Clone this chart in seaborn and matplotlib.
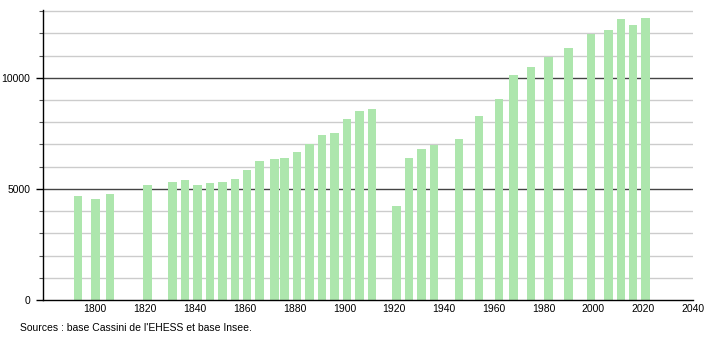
import matplotlib
matplotlib.use("Agg")
import matplotlib.pyplot as plt
import seaborn as sns
import pandas as pd
from matplotlib.ticker import MultipleLocator

years = [1793, 1800, 1806, 1821, 1831, 1836, 1841, 1846, 1851, 1856, 1861, 1866,
         1872, 1876, 1881, 1886, 1891, 1896, 1901, 1906, 1911, 1921, 1926, 1931,
         1936, 1946, 1954, 1962, 1968, 1975, 1982, 1990, 1999, 2006, 2011, 2016, 2021]
population = [4700, 4550, 4770, 5175, 5310, 5415, 5175, 5250, 5310, 5430, 5850, 6240,
              6330, 6390, 6675, 7020, 7425, 7515, 8145, 8505, 8595, 4230, 6390, 6795,
              6990, 7230, 8290, 9045, 10110, 10485, 10935, 11340, 11985, 12150, 12645, 12390, 12690]
x_ticks = [1800, 1820, 1840, 1860, 1880, 1900, 1920, 1940, 1960, 1980, 2000, 2020, 2040]
y_major = [0, 5000, 10000]
source_text = "Sources : base Cassini de l'EHESS et base Insee."

sns.set_theme(style="white")
plt.rcParams['font.family'] = ['Liberation Sans', 'DejaVu Sans']

df = pd.DataFrame({"year": years, "pop": population})

fig = plt.figure(figsize=(7.1, 3.4), dpi=100)
ax = fig.add_axes([43/710, 40/340, (693-43)/710, (300-10)/340])

# grid lines
for v in range(1000, 14000, 1000):
    if v in y_major:
        continue
    ax.axhline(v, color="#cccccc", lw=1.0, zorder=0)
for v in y_major[1:]:
    ax.axhline(v, color="#444444", lw=1.0, zorder=0)

sns.barplot(data=df, x="year", y="pop", native_scale=True, color="#ade6ad",
            saturation=1, width=0.85, ax=ax, zorder=2, edgecolor="none")

ax.set_xlim(1779.0, 2039.4)
ax.set_ylim(0, 13050)
ax.set_xticks(x_ticks)
ax.set_xticklabels([str(t) for t in x_ticks])
ax.set_yticks(y_major)
ax.set_yticklabels([str(t) for t in y_major])
ax.yaxis.set_minor_locator(MultipleLocator(1000))
ax.set_xlabel("")
ax.set_ylabel("")

for s in ["top", "right"]:
    ax.spines[s].set_visible(False)
ax.spines["left"].set_color("black")
ax.spines["bottom"].set_color("black")
ax.spines["left"].set_linewidth(1.0)
ax.spines["bottom"].set_linewidth(1.0)

ax.tick_params(axis="y", which="major", left=True, length=5, width=1, color="black",
               labelsize=7.5, pad=4, labelcolor="black")
ax.tick_params(axis="y", which="minor", left=True, length=3, width=0.8, color="#555555")
ax.tick_params(axis="x", which="major", bottom=False, length=0, labelsize=7.5, pad=3,
               labelcolor="black")

fig.text(20/710, 1 - 328/340, source_text, fontsize=7.5, ha="left", va="center", color="black")

fig.savefig("out.png", dpi=100)
